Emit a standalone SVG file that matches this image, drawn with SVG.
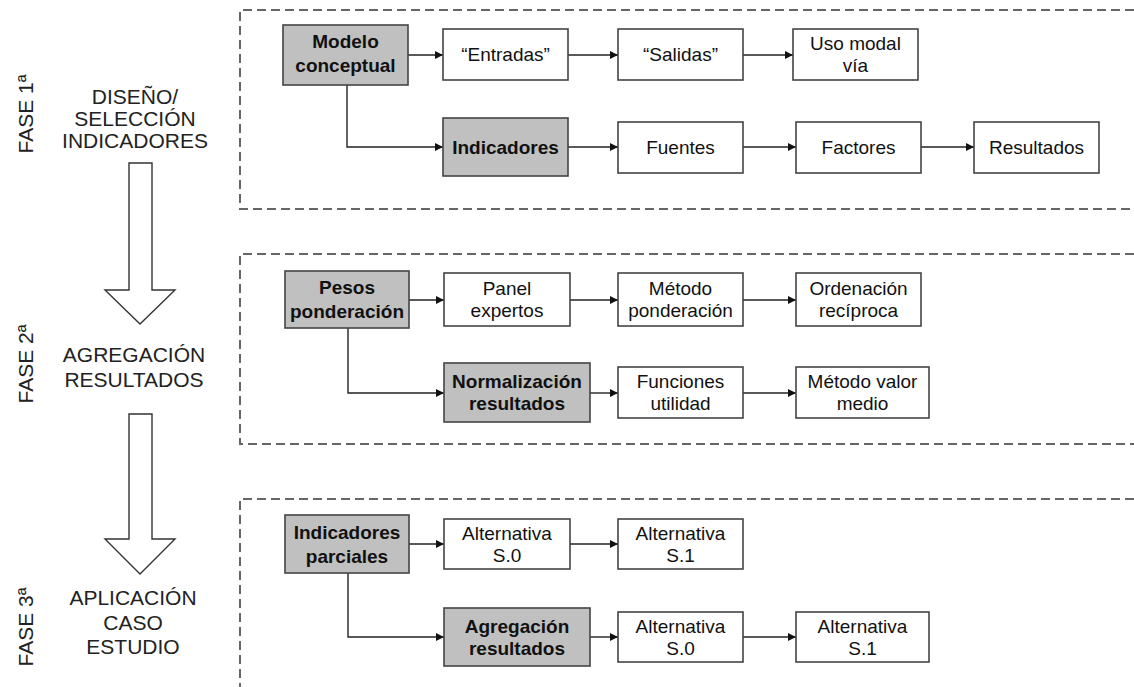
<svg xmlns="http://www.w3.org/2000/svg" width="1134" height="687" viewBox="0 0 1134 687">
  <defs>
    <marker id="arr" viewBox="0 0 10 10" refX="10" refY="5" markerWidth="8" markerHeight="8" markerUnits="userSpaceOnUse" orient="auto">
      <path d="M0,0 L10,5 L0,10 Z" fill="#111"/>
    </marker>
  </defs>
  <style>
    .frame { fill: none; stroke: #666; stroke-width: 2; stroke-dasharray: 9 5; }
    .box { fill: #fff; stroke: #444; stroke-width: 1.6; }
    .key { fill: #c0c0c0; stroke: #444; stroke-width: 1.6; }
    .t { font-family: "Liberation Sans", Arial, sans-serif; font-size: 19px; fill: #111; text-anchor: middle; }
    .tb { font-family: "Liberation Sans", Arial, sans-serif; font-size: 19px; font-weight: bold; fill: #111; text-anchor: middle; }
    .phase { font-family: "Liberation Sans", Arial, sans-serif; font-size: 21px; fill: #222; text-anchor: middle; }
    .link { fill: none; stroke: #222; stroke-width: 1.4; }
    .flow { fill: #fff; stroke: #333; stroke-width: 1.4; }
  </style>
  <rect width="1134" height="687" fill="#fff"/>

  <!-- phase labels -->
  <g id="phase-labels">
    <text class="phase" x="33" y="114" transform="rotate(-90 33 114)">FASE 1ª</text>
    <text class="phase" x="135" y="104">DISEÑO/</text>
    <text class="phase" x="135" y="126">SELECCIÓN</text>
    <text class="phase" x="135" y="148">INDICADORES</text>

    <text class="phase" x="33" y="364" transform="rotate(-90 33 364)">FASE 2ª</text>
    <text class="phase" x="134" y="362">AGREGACIÓN</text>
    <text class="phase" x="134" y="387">RESULTADOS</text>

    <text class="phase" x="33" y="627" transform="rotate(-90 33 627)">FASE 3ª</text>
    <text class="phase" x="133" y="605">APLICACIÓN</text>
    <text class="phase" x="133" y="630">CASO</text>
    <text class="phase" x="133" y="654">ESTUDIO</text>
  </g>

  <!-- hollow arrows between phases -->
  <g id="phase-flow">
    <polygon class="flow" points="129,163 152,163 152,290 175,290 140,324 105,290 129,290"/>
    <polygon class="flow" points="129,414 152,414 152,539 175,539 140,574 105,539 129,539"/>
  </g>

  <!-- dashed phase frames (open to the right) -->
  <g id="frames">
    <path class="frame" d="M1134,10 H240 V209 H1134"/>
    <path class="frame" d="M1134,254 H240 V444 H1134"/>
    <path class="frame" d="M1134,499 H240 V687"/>
  </g>

  <!-- connectors -->
  <g id="connectors">
    <path class="link" d="M408,55 H443" marker-end="url(#arr)"/>
    <path class="link" d="M568,55 H618" marker-end="url(#arr)"/>
    <path class="link" d="M743,55 H793" marker-end="url(#arr)"/>
    <path class="link" d="M347,85 V147 H443" marker-end="url(#arr)"/>
    <path class="link" d="M568,147 H618" marker-end="url(#arr)"/>
    <path class="link" d="M743,147 H796" marker-end="url(#arr)"/>
    <path class="link" d="M921,147 H974" marker-end="url(#arr)"/>

    <path class="link" d="M409,300 H444" marker-end="url(#arr)"/>
    <path class="link" d="M570,300 H618" marker-end="url(#arr)"/>
    <path class="link" d="M743,300 H796" marker-end="url(#arr)"/>
    <path class="link" d="M348,328 V393 H444" marker-end="url(#arr)"/>
    <path class="link" d="M590,393 H618" marker-end="url(#arr)"/>
    <path class="link" d="M743,393 H796" marker-end="url(#arr)"/>

    <path class="link" d="M409,544 H444" marker-end="url(#arr)"/>
    <path class="link" d="M570,544 H618" marker-end="url(#arr)"/>
    <path class="link" d="M348,573 V637 H444" marker-end="url(#arr)"/>
    <path class="link" d="M590,637 H618" marker-end="url(#arr)"/>
    <path class="link" d="M743,637 H796" marker-end="url(#arr)"/>
  </g>

  <!-- phase 1 -->
  <g id="modelo-conceptual">
    <rect class="key" x="283" y="25" width="125" height="60"/>
    <text class="tb" x="345.5" y="48">Modelo</text>
    <text class="tb" x="345.5" y="72">conceptual</text>
  </g>
  <g id="entradas">
    <rect class="box" x="443" y="29" width="125" height="51"/>
    <text class="t" x="505.5" y="61">“Entradas”</text>
  </g>
  <g id="salidas">
    <rect class="box" x="618" y="29" width="125" height="51"/>
    <text class="t" x="680.5" y="61">“Salidas”</text>
  </g>
  <g id="uso-modal">
    <rect class="box" x="793" y="29" width="125" height="51"/>
    <text class="t" x="855.5" y="50">Uso modal</text>
    <text class="t" x="855.5" y="72">vía</text>
  </g>
  <g id="indicadores">
    <rect class="key" x="443" y="118" width="125" height="58"/>
    <text class="tb" x="505.5" y="154">Indicadores</text>
  </g>
  <g id="fuentes">
    <rect class="box" x="618" y="122" width="125" height="51"/>
    <text class="t" x="680.5" y="154">Fuentes</text>
  </g>
  <g id="factores">
    <rect class="box" x="796" y="122" width="125" height="51"/>
    <text class="t" x="858.5" y="154">Factores</text>
  </g>
  <g id="resultados">
    <rect class="box" x="974" y="122" width="125" height="51"/>
    <text class="t" x="1036.5" y="154">Resultados</text>
  </g>

  <!-- phase 2 -->
  <g id="pesos-ponderacion">
    <rect class="key" x="285" y="271" width="124" height="57"/>
    <text class="tb" x="347" y="294">Pesos</text>
    <text class="tb" x="347" y="318">ponderación</text>
  </g>
  <g id="panel-expertos">
    <rect class="box" x="444" y="273" width="126" height="53"/>
    <text class="t" x="507" y="295">Panel</text>
    <text class="t" x="507" y="317">expertos</text>
  </g>
  <g id="metodo-ponderacion">
    <rect class="box" x="618" y="273" width="125" height="53"/>
    <text class="t" x="680.5" y="295">Método</text>
    <text class="t" x="680.5" y="317">ponderación</text>
  </g>
  <g id="ordenacion-reciproca">
    <rect class="box" x="796" y="273" width="125" height="53"/>
    <text class="t" x="858.5" y="295">Ordenación</text>
    <text class="t" x="858.5" y="317">recíproca</text>
  </g>
  <g id="normalizacion-resultados">
    <rect class="key" x="444" y="363" width="146" height="59"/>
    <text class="tb" x="517" y="388">Normalización</text>
    <text class="tb" x="517" y="410">resultados</text>
  </g>
  <g id="funciones-utilidad">
    <rect class="box" x="618" y="367" width="125" height="51"/>
    <text class="t" x="680.5" y="388">Funciones</text>
    <text class="t" x="680.5" y="410">utilidad</text>
  </g>
  <g id="metodo-valor-medio">
    <rect class="box" x="796" y="367" width="133" height="51"/>
    <text class="t" x="862.5" y="388">Método valor</text>
    <text class="t" x="862.5" y="410">medio</text>
  </g>

  <!-- phase 3 -->
  <g id="indicadores-parciales">
    <rect class="key" x="285" y="515" width="124" height="58"/>
    <text class="tb" x="347" y="539">Indicadores</text>
    <text class="tb" x="347" y="563">parciales</text>
  </g>
  <g id="alternativa-s0-a">
    <rect class="box" x="444" y="519" width="126" height="50"/>
    <text class="t" x="507" y="540">Alternativa</text>
    <text class="t" x="507" y="562">S.0</text>
  </g>
  <g id="alternativa-s1-a">
    <rect class="box" x="618" y="519" width="125" height="50"/>
    <text class="t" x="680.5" y="540">Alternativa</text>
    <text class="t" x="680.5" y="562">S.1</text>
  </g>
  <g id="agregacion-resultados">
    <rect class="key" x="444" y="608" width="146" height="58"/>
    <text class="tb" x="517" y="633">Agregación</text>
    <text class="tb" x="517" y="655">resultados</text>
  </g>
  <g id="alternativa-s0-b">
    <rect class="box" x="618" y="612" width="125" height="50"/>
    <text class="t" x="680.5" y="633">Alternativa</text>
    <text class="t" x="680.5" y="655">S.0</text>
  </g>
  <g id="alternativa-s1-b">
    <rect class="box" x="796" y="612" width="133" height="50"/>
    <text class="t" x="862.5" y="633">Alternativa</text>
    <text class="t" x="862.5" y="655">S.1</text>
  </g>
</svg>
